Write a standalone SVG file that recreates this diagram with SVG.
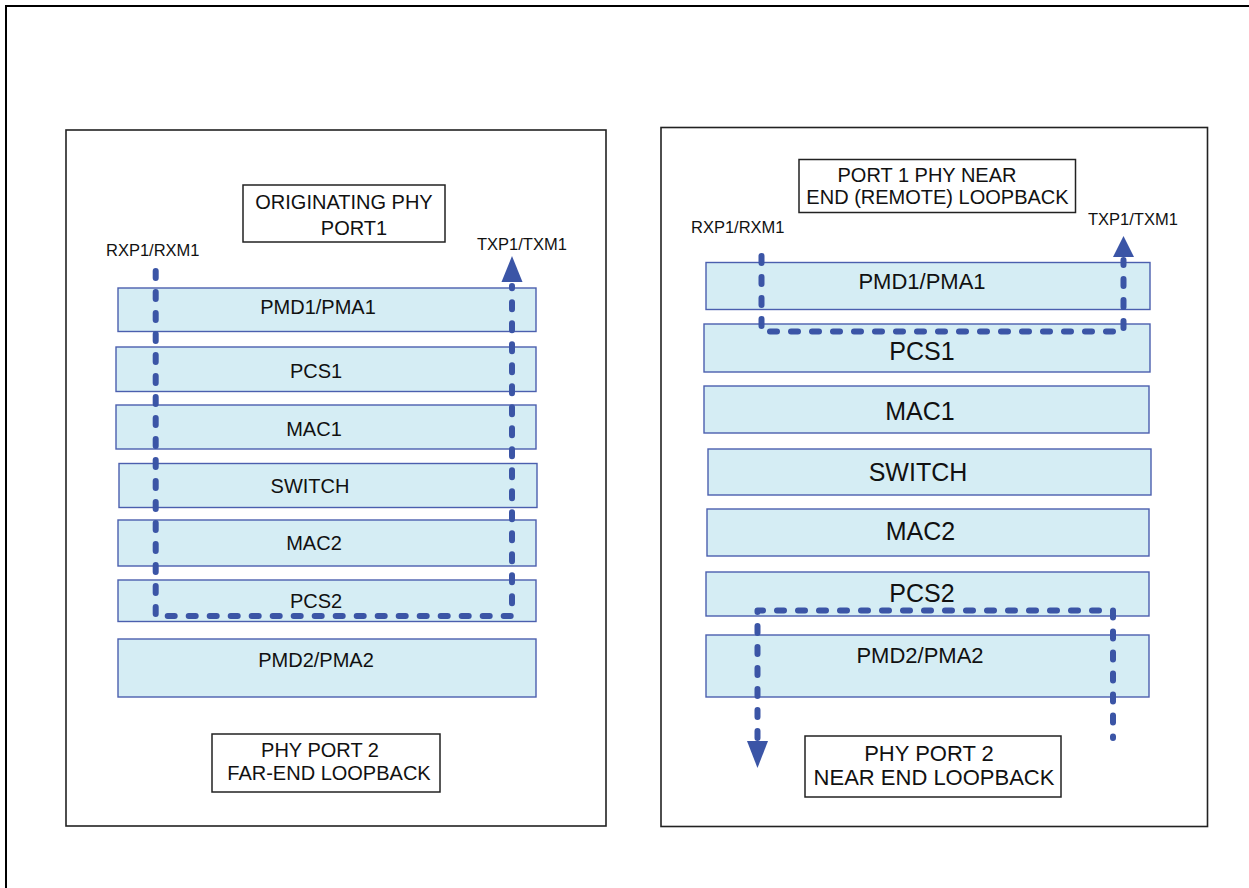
<svg xmlns="http://www.w3.org/2000/svg" width="1249" height="888" viewBox="0 0 1249 888">
<style>
.frame{fill:none;stroke:#000;stroke-width:2}
.panel{fill:#fff;stroke:#222;stroke-width:1.6}
.layer{fill:#d5edf4;stroke:#4b5fae;stroke-width:1.4}
.label{fill:#fff;stroke:#222;stroke-width:1.5}
.t{font-family:"Liberation Sans",Arial,sans-serif;fill:#111;text-anchor:middle}
.s20{font-size:20px}
.s22{font-size:22px}
.s25{font-size:25px}
.pin{font-family:"Liberation Sans",Arial,sans-serif;fill:#111;font-size:16.5px}
.dot{fill:none;stroke:#3b55a6;stroke-width:6;stroke-linecap:round;stroke-linejoin:round;stroke-dasharray:7 14}
.head{fill:#3b55a6}
</style>
<path class="frame" d="M6,888 V6 H1249"/>
<g id="left-panel">
<rect class="panel" x="66" y="130" width="540" height="696"/>
</g>
<g id="right-panel">
<rect class="panel" x="661" y="127.5" width="546.5" height="699"/>
</g>
<g id="left-title">
<rect class="label" x="243" y="185" width="202" height="57"/>
<text class="t s20" x="344" y="209">ORIGINATING PHY</text>
<text class="t s20" x="354" y="235">PORT1</text>
</g>
<g id="left-rx-label"><text class="pin" x="106" y="256">RXP1/RXM1</text></g>
<g id="left-tx-label"><text class="pin" x="477" y="250">TXP1/TXM1</text></g>
<g id="l-pmd1"><rect class="layer" x="118" y="288" width="418" height="43.5"/><text class="t s20" x="318" y="314">PMD1/PMA1</text></g>
<g id="l-pcs1"><rect class="layer" x="116" y="347" width="420" height="44.5"/><text class="t s20" x="316" y="378">PCS1</text></g>
<g id="l-mac1"><rect class="layer" x="116" y="405" width="420" height="44"/><text class="t s20" x="314" y="436">MAC1</text></g>
<g id="l-switch"><rect class="layer" x="119" y="463.5" width="418" height="44"/><text class="t s20" x="310" y="493">SWITCH</text></g>
<g id="l-mac2"><rect class="layer" x="118" y="520" width="418" height="46"/><text class="t s20" x="314" y="550">MAC2</text></g>
<g id="l-pcs2"><rect class="layer" x="118" y="580" width="418" height="41.5"/><text class="t s20" x="316" y="608">PCS2</text></g>
<g id="l-pmd2"><rect class="layer" x="118" y="639" width="418" height="58"/><text class="t s20" x="316" y="667">PMD2/PMA2</text></g>
<g id="left-bottom">
<rect class="label" x="212" y="734" width="228" height="58"/>
<text class="t s20" x="320" y="757">PHY PORT 2</text>
<text class="t s20" x="329" y="780">FAR-END LOOPBACK</text>
</g>
<g id="right-title">
<rect class="label" x="799" y="159.5" width="276.5" height="53"/>
<text class="t s20" x="927" y="182">PORT 1 PHY NEAR</text>
<text class="t s20" x="937.5" y="204">END (REMOTE) LOOPBACK</text>
</g>
<g id="right-rx-label"><text class="pin" x="691" y="233">RXP1/RXM1</text></g>
<g id="right-tx-label"><text class="pin" x="1088" y="225">TXP1/TXM1</text></g>
<g id="r-pmd1"><rect class="layer" x="706" y="262.5" width="444" height="47"/><text class="t s22" x="922" y="289">PMD1/PMA1</text></g>
<g id="r-pcs1"><rect class="layer" x="704" y="324" width="446" height="48"/><text class="t s25" x="922" y="360">PCS1</text></g>
<g id="r-mac1"><rect class="layer" x="704" y="386" width="445" height="47"/><text class="t s25" x="920" y="420">MAC1</text></g>
<g id="r-switch"><rect class="layer" x="708" y="449" width="443" height="46"/><text class="t s25" x="918" y="481">SWITCH</text></g>
<g id="r-mac2"><rect class="layer" x="707" y="509" width="442" height="47"/><text class="t s25" x="920.5" y="540">MAC2</text></g>
<g id="r-pcs2"><rect class="layer" x="706" y="572" width="443" height="44"/><text class="t s25" x="922" y="602">PCS2</text></g>
<g id="r-pmd2"><rect class="layer" x="706" y="635" width="443" height="62"/><text class="t s22" x="920" y="663">PMD2/PMA2</text></g>
<g id="right-bottom">
<rect class="label" x="805" y="736" width="256" height="61"/>
<text class="t s22" x="929" y="761">PHY PORT 2</text>
<text class="t s22" x="934" y="785">NEAR END LOOPBACK</text>
</g>
<g id="connectors">
<path class="dot" d="M155.7,271 V616 H512 V286"/>
<polygon class="head" points="512,256 501.5,282 522.5,282"/>
<path class="dot" d="M761.5,256 V331.5 H1123.5 V260"/>
<polygon class="head" points="1123.5,236 1113,257 1134,257"/>
<path class="dot" d="M757.5,738 V610.5 H1113 V738"/>
<polygon class="head" points="757.5,768 747,741 768,741"/>
</g>
</svg>
